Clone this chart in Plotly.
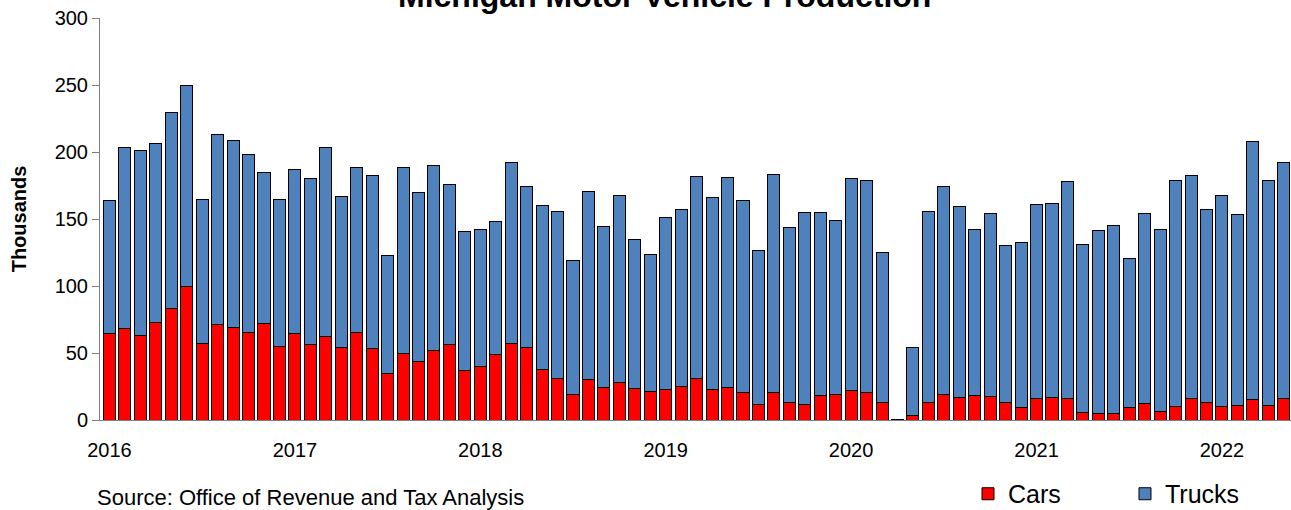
import plotly.graph_objects as go

# Monthly categories, Jan 2016 through May 2022
months = [f"{y}-{m:02d}" for y in range(2016, 2023) for m in range(1, 13)][:77]

# Michigan production, thousands of units
cars = [64.3, 68.1, 63.1, 72.6, 83.0, 100.0, 57.4, 71.3, 69.3, 65.6, 72.1, 55.1,
        64.8, 56.6, 62.0, 54.4, 65.3, 53.6, 34.4, 49.9, 43.6, 51.6, 56.6, 36.9,
        39.9, 48.9, 56.9, 54.4, 37.9, 31.2, 19.0, 30.2, 23.9, 27.7, 23.2, 21.2,
        22.4, 24.9, 30.9, 22.9, 24.4, 20.4, 11.2, 20.2, 13.0, 11.5, 18.2, 19.0,
        21.9, 20.7, 12.7, 0.3, 3.5, 13.2, 18.7, 17.0, 18.5, 17.2, 12.7, 9.5,
        15.7, 16.5, 15.7, 5.5, 4.7, 5.2, 9.2, 12.2, 6.2, 10.0, 16.2, 12.7,
        10.2, 10.7, 15.2, 11.0, 16.2]

trucks = [99.3, 135.1, 138.1, 134.1, 146.2, 149.6, 107.2, 141.9, 139.4, 132.2, 112.7, 109.7,
          122.2, 123.9, 141.5, 112.2, 123.5, 128.9, 88.3, 138.9, 126.5, 138.7, 119.2, 103.7,
          102.2, 99.2, 135.1, 119.9, 122.0, 124.2, 100.2, 140.1, 120.2, 139.6, 111.5, 102.2,
          128.7, 132.5, 150.9, 143.4, 156.6, 143.7, 115.2, 163.1, 130.9, 143.4, 136.7, 129.9,
          158.4, 157.9, 112.0, 0.3, 50.9, 142.4, 155.4, 142.4, 123.4, 136.9, 117.7, 122.7,
          145.1, 145.3, 162.4, 125.7, 136.7, 139.7, 111.2, 141.9, 135.7, 168.6, 166.3, 144.4,
          157.1, 142.4, 192.5, 167.6, 175.6]

year_ticks = ["2016-01", "2017-01", "2018-01", "2019-01", "2020-01", "2021-01", "2022-01"]
year_labels = ["2016", "2017", "2018", "2019", "2020", "2021", "2022"]

FONT = "Liberation Sans, Arial, sans-serif"

fig = go.Figure()
fig.add_trace(go.Bar(
    x=months, y=cars, name="Cars",
    marker=dict(color="#FF0000", line=dict(color="#000000", width=1)),
    legend="legend",
))
fig.add_trace(go.Bar(
    x=months, y=trucks, name="Trucks",
    marker=dict(color="#4F81BD", line=dict(color="#000000", width=1)),
    legend="legend2",
))

legend_common = dict(
    orientation="h", xref="container", yref="container",
    yanchor="middle", xanchor="left", y=0.0314,
    font=dict(family=FONT, size=25, color="#000000"),
    bgcolor="rgba(0,0,0,0)", borderwidth=0,
    itemwidth=30, tracegroupgap=0,
)

fig.update_layout(
    width=1291, height=510,
    margin=dict(l=100, r=0, t=18, b=90, autoexpand=False),
    paper_bgcolor="#FFFFFF", plot_bgcolor="#FFFFFF",
    barmode="stack", bargap=0.22,
    font=dict(family=FONT, color="#000000"),
    showlegend=True,
    legend=dict(x=0.7498, **legend_common),
    legend2=dict(x=0.8714, **legend_common),
    xaxis=dict(
        type="category", automargin=False,
        range=[-0.615, 76.47],
        tickmode="array", tickvals=year_ticks, ticktext=year_labels,
        ticks="", showgrid=False, ticklabelstandoff=12,
        showline=True, linecolor="#808080", linewidth=1,
        tickfont=dict(family=FONT, size=20, color="#000000"),
    ),
    yaxis=dict(
        range=[0, 300], dtick=50, automargin=False,
        ticks="outside", ticklen=7, tickcolor="#808080", tickwidth=1,
        showgrid=False, zeroline=False,
        showline=True, linecolor="#808080", linewidth=1,
        tickfont=dict(family=FONT, size=20, color="#000000"),
        title=dict(text="<b>Thousands</b>", standoff=22,
                   font=dict(family=FONT, size=20, color="#000000")),
    ),
    annotations=[
        dict(text="<b>Michigan Motor Vehicle Production</b>",
             xref="paper", yref="paper", x=0.4736, y=1, xanchor="center",
             yanchor="bottom", yshift=2, showarrow=False,
             font=dict(family=FONT, size=32, color="#000000")),
        dict(text="Source: Office of Revenue and Tax Analysis",
             xref="paper", yref="paper", x=-0.004, y=-0.194, xanchor="left",
             yanchor="middle", showarrow=False,
             font=dict(family=FONT, size=22, color="#000000")),
    ],
)

fig.write_html("out.html")
